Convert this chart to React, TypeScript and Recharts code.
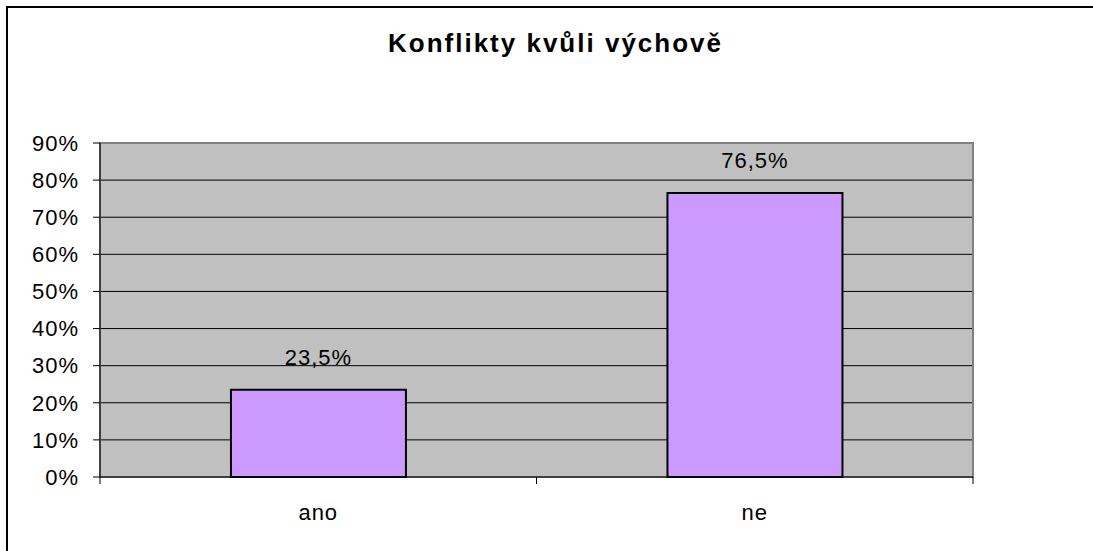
import { BarChart, Bar, XAxis, YAxis, CartesianGrid, ReferenceArea, LabelList } from 'recharts'

const categories = ['ano', 'ne']
const shares = [0.235, 0.765]
const yTicks = [0, 0.1, 0.2, 0.3, 0.4, 0.5, 0.6, 0.7, 0.8, 0.9]
const chartTitle = 'Konflikty kvůli výchově'

const data = categories.map((name, i) => ({ name, value: shares[i] }))

const FONT = '"Liberation Sans", Arial, sans-serif'

const pct = (v: number) => `${Math.round(v * 100)}%`
const pctLabel = (v: any) => `${(Number(v) * 100).toFixed(1).replace('.', ',')}%`

// category ticks sit on the band edges, label in the middle
function CategoryTick(props: any) {
    const { x, y, payload, width, visibleTicksCount } = props
    const half = payload?.offset ?? width / ((visibleTicksCount || 2) * 2)
    return (
        <g>
            <line x1={x - half} y1={y} x2={x - half} y2={y + 7} stroke="#000" />
            <line x1={x + half} y1={y} x2={x + half} y2={y + 7} stroke="#000" />
            <text
                x={x}
                y={y + 43}
                textAnchor="middle"
                fontFamily={FONT}
                fontSize={22}
                letterSpacing={1}
                fill="#000"
            >
                {payload.value}
            </text>
        </g>
    )
}

export default function App() {
    return (
        <div style={{ position: 'absolute', left: 0, top: 0, width: 1093, height: 551, background: '#fff' }}>
            <div
                style={{
                    position: 'absolute',
                    left: 6,
                    top: 6,
                    right: 0,
                    bottom: 0,
                    borderTop: '2px solid #000',
                    borderLeft: '2px solid #000',
                }}
            />
            <div
                style={{
                    position: 'absolute',
                    left: 0,
                    top: 30,
                    width: 1093,
                    paddingLeft: 18,
                    boxSizing: 'border-box',
                    textAlign: 'center',
                    fontFamily: FONT,
                    fontWeight: 'bold',
                    fontSize: 26,
                    lineHeight: '26px',
                    letterSpacing: 2,
                    color: '#000',
                }}
            >
                {chartTitle}
            </div>
            <div style={{ position: 'absolute', left: 0, top: 0 }}>
                <BarChart
                    width={1093}
                    height={551}
                    data={data}
                    margin={{ top: 143, right: 120, left: 0, bottom: 0 }}
                    barCategoryGap="30%"
                >
                    <CartesianGrid vertical={false} stroke="#000" fill="#C0C0C0" fillOpacity={1} />
                    <ReferenceArea y1={0} y2={0.9} fill="none" stroke="#808080" strokeWidth={2} />
                    <XAxis
                        dataKey="name"
                        height={74}
                        axisLine={{ stroke: '#000' }}
                        tickLine={false}
                        tickSize={0}
                        tickMargin={0}
                        tick={<CategoryTick />}
                        interval={0}
                    />
                    <YAxis
                        width={100}
                        domain={[0, 0.9]}
                        ticks={yTicks}
                        interval={0}
                        tickFormatter={pct}
                        axisLine={{ stroke: '#000' }}
                        tickLine={{ stroke: '#000' }}
                        tickSize={7}
                        tickMargin={14}
                        tick={{ fill: '#000', fontFamily: FONT, fontSize: 22, letterSpacing: 1 }}
                    />
                    <Bar dataKey="value" fill="#CC99FF" stroke="#000" strokeWidth={2} isAnimationActive={false}>
                        <LabelList
                            dataKey="value"
                            position="top"
                            offset={25}
                            formatter={pctLabel}
                            fill="#000"
                            fontFamily={FONT}
                            fontSize={22}
                            letterSpacing={1}
                        />
                    </Bar>
                </BarChart>
            </div>
        </div>
    )
}
